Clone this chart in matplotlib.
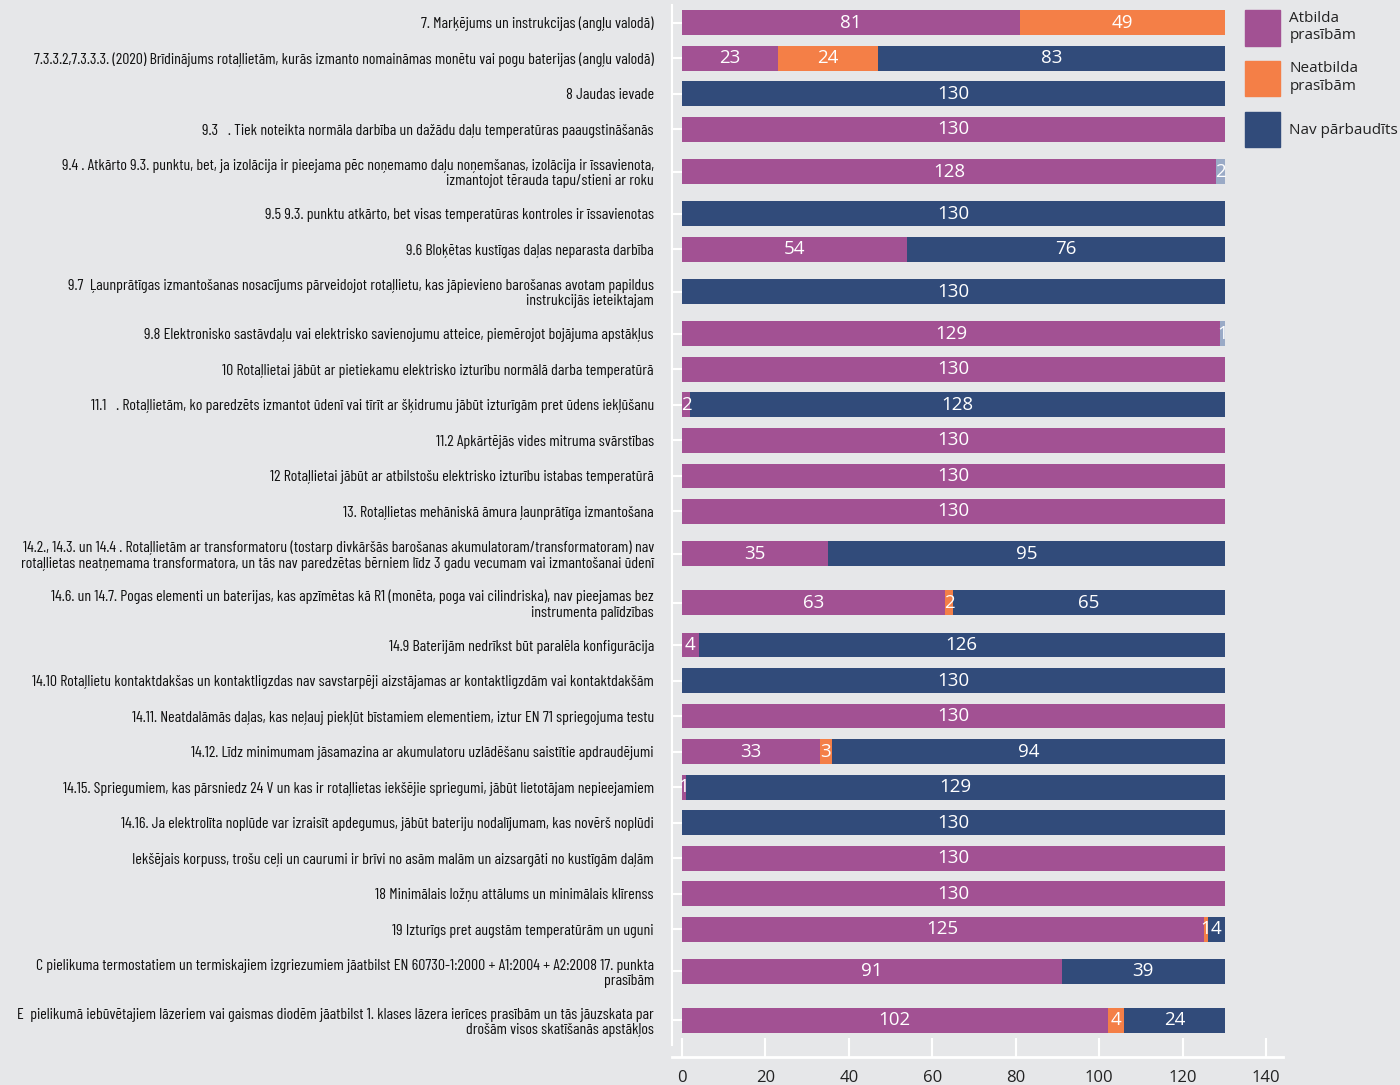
import matplotlib.pyplot as plt
import numpy as np
from matplotlib import font_manager

labels = [
    "7. Marķējums un instrukcijas (angļu valodā)",
    "7.3.3.2,7.3.3.3. (2020) Brīdinājums rotaļlietām, kurās izmanto nomaināmas monētu vai pogu baterijas (angļu valodā)",
    "8 Jaudas ievade",
    "9.3   . Tiek noteikta normāla darbība un dažādu daļu temperatūras paaugstināšanās",
    "9.4 . Atkārto 9.3. punktu, bet, ja izolācija ir pieejama pēc noņemamo daļu noņemšanas, izolācija ir īssavienota,\nizmantojot tērauda tapu/stieni ar roku",
    "9.5 9.3. punktu atkārto, bet visas temperatūras kontroles ir īssavienotas",
    "9.6 Bloķētas kustīgas daļas neparasta darbība",
    "9.7  Ļaunprātīgas izmantošanas nosacījums pārveidojot rotaļlietu, kas jāpievieno barošanas avotam papildus\ninstrukcijās ieteiktajam",
    "9.8 Elektronisko sastāvdaļu vai elektrisko savienojumu atteice, piemērojot bojājuma apstākļus",
    "10 Rotaļlietai jābūt ar pietiekamu elektrisko izturību normālā darba temperatūrā",
    "11.1   . Rotaļlietām, ko paredzēts izmantot ūdenī vai tīrīt ar šķidrumu jābūt izturīgām pret ūdens iekļūšanu",
    "11.2 Apkārtējās vides mitruma svārstības",
    "12 Rotaļlietai jābūt ar atbilstošu elektrisko izturību istabas temperatūrā",
    "13. Rotaļlietas mehāniskā āmura ļaunprātīga izmantošana",
    "14.2., 14.3. un 14.4 . Rotaļlietām ar transformatoru (tostarp divkāršās barošanas akumulatoram/transformatoram) nav\nrotaļlietas neatņemama transformatora, un tās nav paredzētas bērniem līdz 3 gadu vecumam vai izmantošanai ūdenī",
    "14.6. un 14.7. Pogas elementi un baterijas, kas apzīmētas kā R1 (monēta, poga vai cilindriska), nav pieejamas bez\ninstrumenta palīdzības",
    "14.9 Baterijām nedrīkst būt paralēla konfigurācija",
    "14.10 Rotaļlietu kontaktdakšas un kontaktligzdas nav savstarpēji aizstājamas ar kontaktligzdām vai kontaktdakšām",
    "14.11. Neatdalāmās daļas, kas neļauj piekļūt bīstamiem elementiem, iztur EN 71 spriegojuma testu",
    "14.12. Līdz minimumam jāsamazina ar akumulatoru uzlādēšanu saistītie apdraudējumi",
    "14.15. Spriegumiem, kas pārsniedz 24 V un kas ir rotaļlietas iekšējie spriegumi, jābūt lietotājam nepieejamiem",
    "14.16. Ja elektrolīta noplūde var izraisīt apdegumus, jābūt bateriju nodalījumam, kas novērš noplūdi",
    "Iekšējais korpuss, trošu ceļi un caurumi ir brīvi no asām malām un aizsargāti no kustīgām daļām",
    "18 Minimālais ložņu attālums un minimālais klīrenss",
    "19 Izturīgs pret augstām temperatūrām un uguni",
    "C pielikuma termostatiem un termiskajiem izgriezumiem jāatbilst EN 60730-1:2000 + A1:2004 + A2:2008 17. punkta\nprasībām",
    "E  pielikumā iebūvētajiem lāzeriem vai gaismas diodēm jāatbilst 1. klases lāzera ierīces prasībām un tās jāuzskata par\ndrošām visos skatīšanās apstākļos",
]

atbilda = [81, 23, 0, 130, 128, 0, 54, 0, 129, 130, 2, 130, 130, 130, 35, 63, 4, 0, 130, 33, 1, 0, 130, 130, 125, 91, 102]
neatbilda = [49, 24, 0, 0, 0, 0, 0, 0, 0, 0, 0, 0, 0, 0, 0, 2, 0, 0, 0, 3, 0, 0, 0, 0, 1, 0, 4]
nav = [0, 83, 130, 0, 0, 130, 76, 130, 0, 0, 128, 0, 0, 0, 95, 65, 126, 130, 0, 94, 129, 130, 0, 0, 4, 39, 24]
cits = [0, 0, 0, 0, 2, 0, 0, 0, 1, 0, 0, 0, 0, 0, 0, 0, 0, 0, 0, 0, 0, 0, 0, 0, 0, 0, 0]

series_names = ["Atbilda\nprasībām", "Neatbilda\nprasībām", "Nav pārbaudīts"]
colors = ["#a25193", "#f47f47", "#314b7a", "#9aaac6"]
bg = "#e6e7e9"

# šaurais fonts etiķetēm, ja tāda nav - mazāks parastais
try:
    font_manager.findfont("Barlow Condensed", fallback_to_default=False)
    label_font, label_size = ["Barlow Condensed", "DejaVu Sans"], 11.5
except ValueError:
    label_font, label_size = ["Liberation Sans", "DejaVu Sans"], 7.6
num_font = ["Open Sans", "DejaVu Sans"]

fig = plt.figure(figsize=(14, 10.85), dpi=100, facecolor=bg)
ax = fig.add_axes([0.48, 0.0258, 0.4364, 0.9696])
ax.set_facecolor(bg)

# rindu augstums atkarīgs no etiķetes rindiņu skaita
nlines = np.array([l.count("\n") + 1 for l in labels])
slots = np.where(nlines == 2, 1.38, 1.0)
centers = np.cumsum(slots) - slots / 2

left = np.zeros(len(labels))
for vals, c in zip([atbilda, neatbilda, nav, cits], colors):
    vals = np.array(vals)
    ax.barh(centers, vals, left=left, height=0.7, color=c, zorder=3)
    for y, l, v in zip(centers, left, vals):
        if v > 0:
            ax.text(l + v / 2, y, str(v), ha="center", va="center", color="white",
                    fontsize=13.5, family=num_font, zorder=4)
    left += vals

ax.set_xlim(-2.4, 144)
ax.set_ylim(slots.sum() + 0.34, 0)

ax.set_yticks(centers)
ax.set_yticklabels(labels, family=label_font, fontsize=label_size,
                   color="#111111", multialignment="right", linespacing=1.1)
ax.set_xticks(range(0, 141, 20))
ax.set_xticklabels([str(t) for t in range(0, 141, 20)], family=num_font, fontsize=12,
                   color="#222222")

ax.tick_params(axis="y", direction="in", length=8, width=1.5, color="white", pad=13)
ax.tick_params(axis="x", direction="in", length=14, width=1.5, color="white", pad=9)

for s in ["top", "right"]:
    ax.spines[s].set_visible(False)
ax.spines["left"].set_color("white")
ax.spines["left"].set_linewidth(1.5)
ax.spines["left"].set_bounds(0, centers[-1] + 0.7)
ax.spines["bottom"].set_color("white")
ax.spines["bottom"].set_linewidth(2)

handles = [plt.Rectangle((0, 0), 1, 1, color=c) for c in colors[:3]]
fig.legend(handles, series_names, loc="upper left", bbox_to_anchor=(1245 / 1400, 1 - 10 / 1085),
           frameon=False, prop={"family": num_font, "size": 11}, handlelength=2.3,
           handleheight=3.2, handletextpad=0.6, labelspacing=1.0, borderpad=0,
           borderaxespad=0, labelcolor="#222222")

fig.savefig("out.png", dpi=100, facecolor=bg)
